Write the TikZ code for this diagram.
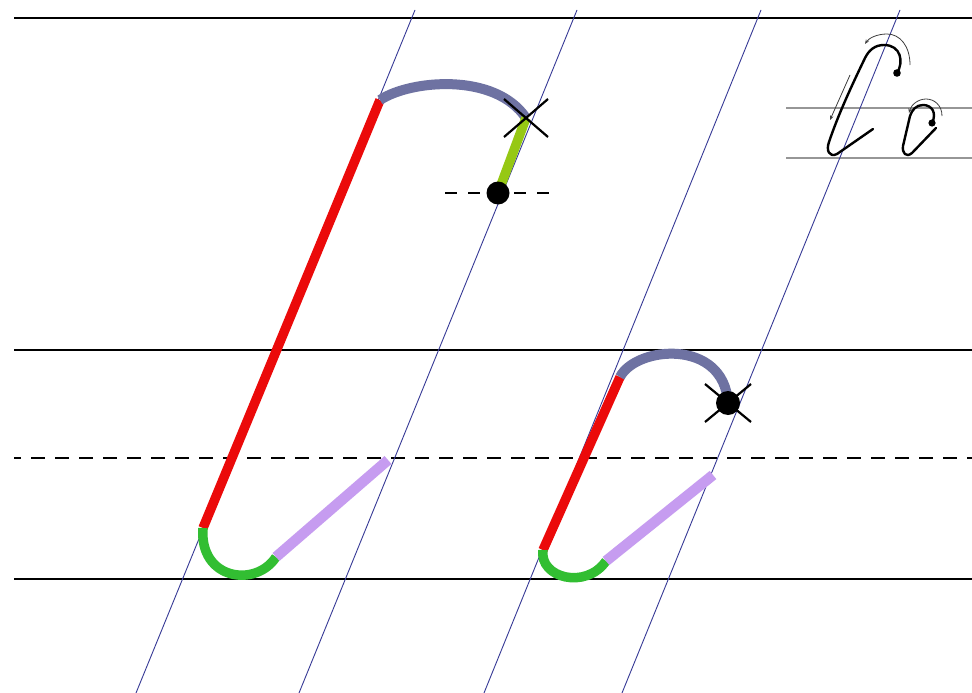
\documentclass[tikz,border=0pt]{standalone}
\usetikzlibrary{arrows.meta,calc}
\definecolor{slantblue}{RGB}{55,58,150}
\definecolor{strokered}{RGB}{235,10,10}
\definecolor{arcslate}{RGB}{110,114,162}
\definecolor{yelgreen}{RGB}{150,200,20}
\definecolor{loopgreen}{RGB}{50,190,50}
\definecolor{lavender}{RGB}{198,156,240}
\definecolor{guidegray}{RGB}{150,150,150}
\tikzset{
  ruleline/.style={line width=2.8pt,black},
  ruledash/.style={line width=2.8pt,black,dash pattern=on 14pt off 10pt,dash phase=7pt},
  slantline/.style={line width=0.9pt,slantblue},
  letterstroke/.style={line width=9.5pt,line cap=butt},
  crossmark/.style={line width=2.2pt,black},
  penline/.style={line width=2.4pt,black,line cap=round,line join=round},
  hintarrow/.style={line width=0.8pt,black!75,-{Stealth[length=4.5pt,width=3.5pt]}},
}
\begin{document}
\begin{tikzpicture}[x=1pt,y=-1pt]
\useasboundingbox (0,0) rectangle (972,693);
\fill[white] (0,0) rectangle (972,693);
% ruling
\draw[ruleline] (14,18) -- (972,18);
\draw[ruleline] (14,350) -- (972,350);
\draw[ruledash] (14,458) -- (972,458);
\draw[ruleline] (14,579) -- (972,579);
% sample guide lines
\draw[line width=1.4pt,guidegray] (786,108) -- (972,108);
\draw[line width=1.4pt,guidegray] (786,158) -- (972,158);
% slant lines
\draw[slantline] (415,10) -- (136,693);
\draw[slantline] (577,10) -- (299,693);
\draw[slantline] (761,10) -- (484,693);
\draw[slantline] (900,10) -- (622,693);
% ===== large letter =====
\coordinate (Lt) at (380,100);
\coordinate (Lx) at (526,118);
\coordinate (Ld) at (498,193);
\coordinate (Lb) at (203,528);
\coordinate (Lg) at (276,557);
\coordinate (Lp) at (388,460);
\draw[ruleline,dash pattern=on 12pt off 11pt] (445,193) -- (557,193);
\draw[letterstroke,strokered] (Lt) -- (Lb);
\draw[letterstroke,arcslate,line width=10pt] (Lt) .. controls (410,80) and (495,72) .. (Lx);
\draw[letterstroke,yelgreen] (Lx) -- (Ld);
\draw[letterstroke,loopgreen] (Lb) .. controls (199,580) and (256,588) .. (Lg);
\draw[letterstroke,lavender,line width=10.5pt] (Lg) -- (Lp);
\fill[black] (Ld) circle (11.5pt);
\draw[crossmark] ($(Lx)+(-22,-19)$) -- ($(Lx)+(22,19)$);
\draw[crossmark] ($(Lx)+(-22,19)$) -- ($(Lx)+(22,-19)$);
% ===== small letter =====
\coordinate (St) at (620,377);
\coordinate (Sx) at (728,403);
\coordinate (Sb) at (543,550);
\coordinate (Sg) at (606,561);
\coordinate (Sp) at (713,475);
\draw[letterstroke,strokered] (St) -- (Sb);
\draw[letterstroke,arcslate,line width=10pt] (St) .. controls (636,346) and (724,338) .. (Sx);
\draw[letterstroke,loopgreen] (Sb) .. controls (539,578) and (586,590) .. (Sg);
\draw[letterstroke,lavender,line width=10.5pt] (Sg) -- (Sp);
\fill[black] (Sx) circle (12pt);
\draw[crossmark] ($(Sx)+(-23,-19)$) -- ($(Sx)+(23,19)$);
\draw[crossmark] ($(Sx)+(-23,19)$) -- ($(Sx)+(23,-19)$);
% ===== sample Cc =====
\coordinate (Cd) at (897,73);
\coordinate (cd) at (932,123);
\draw[penline] (Cd) .. controls (904,62) and (901,45) .. (884,45)
  .. controls (875,45) and (869,50) .. (865,58)
  .. controls (852,85) and (838,115) .. (829,142)
  .. controls (826,150) and (829,158) .. (837,154) -- (873,129);
\fill[black] (Cd) circle (3.8pt);
\draw[penline] (cd) .. controls (937,113) and (932,105) .. (923,105)
  .. controls (916,105) and (912,110) .. (910,116)
  -- (903,146) .. controls (902,153) and (906,158) .. (912,153) -- (936,128);
\fill[black] (cd) circle (3.6pt);
\draw[hintarrow] (910,65) .. controls (910,46) and (900,34) .. (887,34) .. controls (877,34) and (869,38) .. (865,44);
\draw[hintarrow] (850,75) -- (830,120);
\draw[hintarrow] (942,116) .. controls (942,105) and (934,99) .. (926,99) .. controls (918,99) and (911,105) .. (909,113);
\end{tikzpicture}
\end{document}
